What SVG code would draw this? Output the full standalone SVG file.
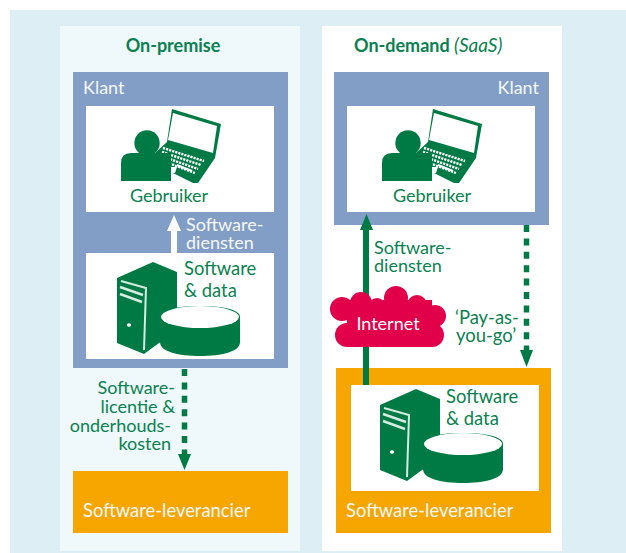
<svg xmlns="http://www.w3.org/2000/svg" width="626" height="553" viewBox="0 0 626 553">
<style>
.t{font-family:"Lato","Open Sans",sans-serif;font-size:18px}
.l{font-size:18.4px}
.g{fill:#007a45}
.w{fill:#fff}
.txg{fill:#0a8150}
.txw{fill:#f4f8fb}
.b{font-weight:700}
.blue{fill:#829ec6}
.or{fill:#f7a600}
.dash{stroke:#007a45;stroke-width:5.5;stroke-dasharray:7 6.4;fill:none}
.red{fill:#e2004a}
</style>
<defs>
<g id="user">
<path d="M25-34 74-19 68 15 51 40 46 40 24 29V10H8L20-1Z" class="g"/>
<path d="M26-30 70-17 66 10 21-3Z" class="w"/>
<path d="M16 5 57 18M15 9 54 22M14 13 51 26M13 17 48 30" stroke="#fff" stroke-width="2.4" stroke-dasharray="2.2 1" fill="none"/>
<path d="M30 22 45 28" stroke="#fff" stroke-width="2" fill="none"/>
<path d="M24 24H30L28 30H24Z" class="w"/>
<circle cx="0" cy="0" r="12.7" class="g"/>
<path d="M-26 38V20Q-26 10-16 10H24V38Z" class="g"/>
</g>
<g id="server">
<path d="M-36-26 0-42 24-32V30L6 39-9 50-36 39Z" class="g"/>
<path d="M-32-23-7-16-9 46" fill="none" stroke="#d6ece2" stroke-width="2"/>
<path d="M-33-17-10-9M-33-10-11-2" stroke="#d6ece2" stroke-width="2.5"/>
<ellipse cx="-24" cy="21" rx="2.2" ry="1.8" class="w"/>
<path d="M7 13C7 5 26 2 47 2S87 5 87 13V38C87 48 68 52 47 52S7 48 7 38Z" class="g"/>
<ellipse cx="47" cy="13" rx="39" ry="11" class="w"/>
</g>
</defs>
<rect width="626" height="553" fill="#fff"/>
<rect x="10" y="10" width="616" height="543" fill="#ddeef5"/>
<rect x="60" y="26" width="240" height="525" fill="#eff8fb"/>
<rect x="322" y="26" width="240" height="525" fill="#fff"/>

<g id="title-left"><text x="173" y="52" class="t b txg" text-anchor="middle">On-premise</text></g>
<g id="title-right"><text x="354" y="52" class="t txg"><tspan class="b">On-demand </tspan><tspan font-style="italic" font-size="19">(SaaS)</tspan></text></g>

<g id="klant-left">
<rect x="73" y="72" width="215" height="296" class="blue"/>
<text x="83" y="94" class="t txw">Klant</text>
</g>
<g id="gebruiker-left">
<rect x="86" y="106" width="188" height="106" class="w"/>
<use href="#user" x="147" y="143"/>
<text x="169" y="202" class="t txg" text-anchor="middle">Gebruiker</text>
</g>
<g id="software-left">
<rect x="86" y="253" width="188" height="106" class="w"/>
<use href="#server" x="153" y="304"/>
<text x="184" y="275" class="t l txg">Software</text>
<text x="184" y="297" class="t l txg">&amp; data</text>
</g>
<g id="leverancier-left">
<rect x="73" y="471" width="215" height="62" class="or"/>
<text x="83" y="517" class="t l txw">Software-leverancier</text>
</g>

<g id="klant-right">
<rect x="334" y="72" width="215" height="153" class="blue"/>
<text x="539" y="94" class="t txw" text-anchor="end">Klant</text>
</g>
<g id="gebruiker-right">
<rect x="347" y="106" width="188" height="106" class="w"/>
<use href="#user" x="408" y="143"/>
<text x="432" y="202" class="t txg" text-anchor="middle">Gebruiker</text>
</g>
<g id="leverancier-right">
<rect x="336" y="368" width="215" height="165" class="or"/>
<text x="346" y="517" class="t l txw">Software-leverancier</text>
</g>
<g id="software-right">
<rect x="351" y="385" width="188" height="106" class="w"/>
<use href="#server" x="416" y="431"/>
<text x="446" y="403" class="t l txg">Software</text>
<text x="446" y="425" class="t l txg">&amp; data</text>
</g>

<g id="connectors">
<path d="M174 253V228" stroke="#fff" stroke-width="6"/>
<path d="M167 231 174 215 181 231Z" fill="#fff"/>
<path d="M184.5 369V456" class="dash"/>
<path d="M178 454H191L184.5 470Z" class="g"/>
<path d="M366 385V228" stroke="#007a45" stroke-width="6"/>
<path d="M360 230 366.500 214 373 230Z" class="g"/>
<path d="M526.500 225V352" class="dash"/>
<path d="M520 350H533L526.500 367Z" class="g"/>
</g>

<g id="internet">
<g class="red">
<circle cx="342" cy="309" r="12"/><circle cx="361" cy="303" r="11"/><circle cx="377" cy="307" r="9"/><circle cx="396" cy="298" r="12"/><circle cx="417" cy="305" r="10"/><circle cx="435" cy="316" r="11"/><circle cx="432" cy="335" r="12"/><circle cx="347" cy="335" r="12"/>
<rect x="347" y="300" width="85" height="47"/>
</g>
<text x="388" y="330" class="t" fill="#fff" text-anchor="middle">Internet</text>
</g>

<g id="labels">
<text x="186" y="231" class="t txw">Software-</text>
<text x="186" y="249" class="t txw">diensten</text>
<g text-anchor="end">
<text x="175" y="394" class="t txg">Software-</text>
<text x="175" y="413" class="t txg">licentie &amp;</text>
<text x="171" y="432" class="t txg" font-size="17.6">onderhouds-</text>
<text x="171" y="450" class="t txg">kosten</text>
</g>
<text x="374" y="254" class="t txg">Software-</text>
<text x="374" y="272" class="t txg">diensten</text>
<text x="455" y="324" class="t l txg">‘Pay-as-</text>
<text x="456" y="342" class="t l txg">you-go’</text>
</g>
</svg>
